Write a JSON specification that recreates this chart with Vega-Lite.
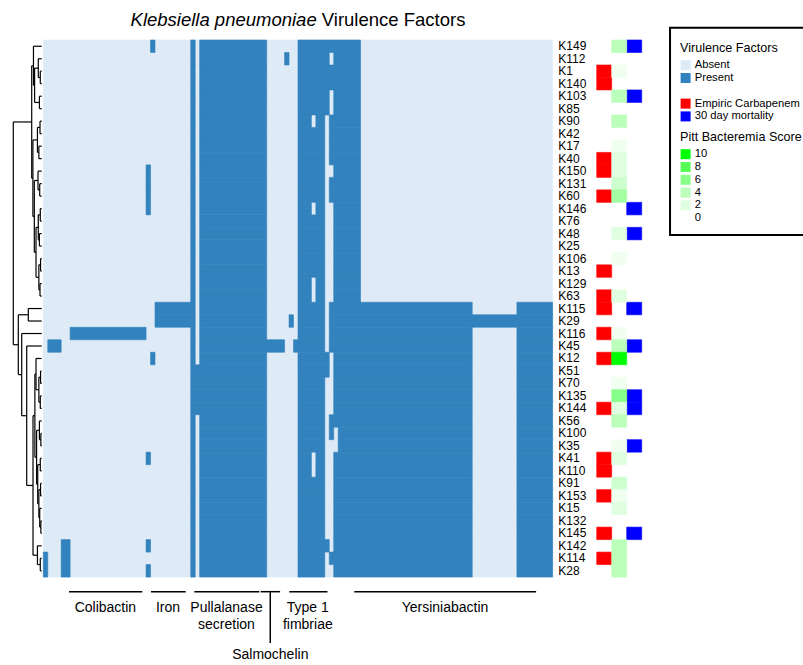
{
"$schema": "https://vega.github.io/schema/vega-lite/v6.json",
"width": 803, "height": 665, "autosize": {"type": "none"}, "padding": 0, "background": "white",
"config": {
  "view": {"stroke": null},
  "font": "Liberation Sans",
  "axis": {"disable": true},
  "scale": {"continuousPadding": 0},
  "legend": {"orient": "none", "padding": 0, "rowPadding": 0.8, "labelFont": "Liberation Sans", "labelFontSize": 11.2, "labelColor": "black", "labelOffset": 3.5, "labelLimit": 300, "titleFont": "Liberation Sans", "titleFontSize": 12.6, "titleFontWeight": "normal", "titleColor": "black", "titlePadding": 5, "titleLimit": 300, "symbolType": "square", "symbolSize": 100, "symbolStrokeWidth": 0, "symbolOpacity": 1}
},
"datasets": {
"strains": [
{"r":0,"k":"K149","c":0,"p":4,"m":1},
{"r":1,"k":"K112","c":0,"p":0,"m":0},
{"r":2,"k":"K1","c":1,"p":1,"m":0},
{"r":3,"k":"K140","c":1,"p":0,"m":0},
{"r":4,"k":"K103","c":0,"p":4,"m":1},
{"r":5,"k":"K85","c":0,"p":0,"m":0},
{"r":6,"k":"K90","c":0,"p":4,"m":0},
{"r":7,"k":"K42","c":0,"p":0,"m":0},
{"r":8,"k":"K17","c":0,"p":1,"m":0},
{"r":9,"k":"K40","c":1,"p":2,"m":0},
{"r":10,"k":"K150","c":1,"p":2,"m":0},
{"r":11,"k":"K131","c":0,"p":3,"m":0},
{"r":12,"k":"K60","c":1,"p":5,"m":0},
{"r":13,"k":"K146","c":0,"p":0,"m":1},
{"r":14,"k":"K76","c":0,"p":0,"m":0},
{"r":15,"k":"K48","c":0,"p":2,"m":1},
{"r":16,"k":"K25","c":0,"p":0,"m":0},
{"r":17,"k":"K106","c":0,"p":1,"m":0},
{"r":18,"k":"K13","c":1,"p":0,"m":0},
{"r":19,"k":"K129","c":0,"p":0,"m":0},
{"r":20,"k":"K63","c":1,"p":2,"m":0},
{"r":21,"k":"K115","c":1,"p":0,"m":1},
{"r":22,"k":"K29","c":0,"p":0,"m":0},
{"r":23,"k":"K116","c":1,"p":1,"m":0},
{"r":24,"k":"K45","c":0,"p":4,"m":1},
{"r":25,"k":"K12","c":1,"p":10,"m":0},
{"r":26,"k":"K51","c":0,"p":0,"m":0},
{"r":27,"k":"K70","c":0,"p":1,"m":0},
{"r":28,"k":"K135","c":0,"p":6,"m":1},
{"r":29,"k":"K144","c":1,"p":2,"m":1},
{"r":30,"k":"K56","c":0,"p":4,"m":0},
{"r":31,"k":"K100","c":0,"p":0,"m":0},
{"r":32,"k":"K35","c":0,"p":1,"m":1},
{"r":33,"k":"K41","c":1,"p":2,"m":0},
{"r":34,"k":"K110","c":1,"p":0,"m":0},
{"r":35,"k":"K91","c":0,"p":3,"m":0},
{"r":36,"k":"K153","c":1,"p":1,"m":0},
{"r":37,"k":"K15","c":0,"p":2,"m":0},
{"r":38,"k":"K132","c":0,"p":0,"m":0},
{"r":39,"k":"K145","c":1,"p":0,"m":1},
{"r":40,"k":"K142","c":0,"p":4,"m":0},
{"r":41,"k":"K114","c":1,"p":4,"m":0},
{"r":42,"k":"K28","c":0,"p":4,"m":0}
],
"runs": [
{"r":0,"a":24,"b":25},{"r":0,"a":33,"b":34},{"r":0,"a":35,"b":50},{"r":0,"a":57,"b":71},
{"r":1,"a":33,"b":34},{"r":1,"a":35,"b":50},{"r":1,"a":54,"b":55},{"r":1,"a":57,"b":64},{"r":1,"a":65,"b":71},
{"r":2,"a":33,"b":34},{"r":2,"a":35,"b":50},{"r":2,"a":57,"b":71},
{"r":3,"a":33,"b":34},{"r":3,"a":35,"b":50},{"r":3,"a":57,"b":71},
{"r":4,"a":33,"b":34},{"r":4,"a":35,"b":50},{"r":4,"a":57,"b":64},{"r":4,"a":65,"b":71},
{"r":5,"a":33,"b":34},{"r":5,"a":35,"b":50},{"r":5,"a":57,"b":64},{"r":5,"a":65,"b":71},
{"r":6,"a":33,"b":34},{"r":6,"a":35,"b":50},{"r":6,"a":57,"b":60},{"r":6,"a":61,"b":63},{"r":6,"a":64,"b":71},
{"r":7,"a":33,"b":34},{"r":7,"a":35,"b":50},{"r":7,"a":57,"b":63},{"r":7,"a":64,"b":71},
{"r":8,"a":33,"b":34},{"r":8,"a":35,"b":50},{"r":8,"a":57,"b":63},{"r":8,"a":64,"b":71},
{"r":9,"a":33,"b":34},{"r":9,"a":35,"b":50},{"r":9,"a":57,"b":63},{"r":9,"a":64,"b":71},
{"r":10,"a":23,"b":24},{"r":10,"a":33,"b":34},{"r":10,"a":35,"b":50},{"r":10,"a":57,"b":63},{"r":10,"a":65,"b":71},
{"r":11,"a":23,"b":24},{"r":11,"a":33,"b":34},{"r":11,"a":35,"b":50},{"r":11,"a":57,"b":63},{"r":11,"a":64,"b":71},
{"r":12,"a":23,"b":24},{"r":12,"a":33,"b":34},{"r":12,"a":35,"b":50},{"r":12,"a":57,"b":63},{"r":12,"a":64,"b":71},
{"r":13,"a":23,"b":24},{"r":13,"a":33,"b":34},{"r":13,"a":35,"b":50},{"r":13,"a":57,"b":60},{"r":13,"a":61,"b":63},{"r":13,"a":65,"b":71},
{"r":14,"a":33,"b":34},{"r":14,"a":35,"b":50},{"r":14,"a":57,"b":63},{"r":14,"a":65,"b":71},
{"r":15,"a":33,"b":34},{"r":15,"a":35,"b":50},{"r":15,"a":57,"b":63},{"r":15,"a":65,"b":71},
{"r":16,"a":33,"b":34},{"r":16,"a":35,"b":50},{"r":16,"a":57,"b":63},{"r":16,"a":65,"b":71},
{"r":17,"a":33,"b":34},{"r":17,"a":35,"b":50},{"r":17,"a":57,"b":63},{"r":17,"a":65,"b":71},
{"r":18,"a":33,"b":34},{"r":18,"a":35,"b":50},{"r":18,"a":57,"b":63},{"r":18,"a":65,"b":71},
{"r":19,"a":33,"b":34},{"r":19,"a":35,"b":50},{"r":19,"a":57,"b":60},{"r":19,"a":61,"b":63},{"r":19,"a":65,"b":71},
{"r":20,"a":33,"b":34},{"r":20,"a":35,"b":50},{"r":20,"a":57,"b":60},{"r":20,"a":61,"b":63},{"r":20,"a":65,"b":71},
{"r":21,"a":25,"b":34},{"r":21,"a":35,"b":50},{"r":21,"a":57,"b":63},{"r":21,"a":64,"b":96},{"r":21,"a":106,"b":114},
{"r":22,"a":25,"b":34},{"r":22,"a":35,"b":50},{"r":22,"a":55,"b":56},{"r":22,"a":57,"b":63},{"r":22,"a":64,"b":114},
{"r":23,"a":6,"b":23},{"r":23,"a":33,"b":34},{"r":23,"a":35,"b":50},{"r":23,"a":57,"b":63},{"r":23,"a":64,"b":96},{"r":23,"a":106,"b":114},
{"r":24,"a":1,"b":4},{"r":24,"a":33,"b":34},{"r":24,"a":35,"b":54},{"r":24,"a":56,"b":63},{"r":24,"a":64,"b":96},{"r":24,"a":106,"b":114},
{"r":25,"a":24,"b":25},{"r":25,"a":33,"b":34},{"r":25,"a":35,"b":50},{"r":25,"a":57,"b":64},{"r":25,"a":65,"b":96},{"r":25,"a":106,"b":114},
{"r":26,"a":33,"b":50},{"r":26,"a":57,"b":64},{"r":26,"a":65,"b":96},{"r":26,"a":106,"b":114},
{"r":27,"a":33,"b":50},{"r":27,"a":57,"b":63},{"r":27,"a":65,"b":96},{"r":27,"a":106,"b":114},
{"r":28,"a":33,"b":50},{"r":28,"a":57,"b":63},{"r":28,"a":65,"b":96},{"r":28,"a":106,"b":114},
{"r":29,"a":33,"b":50},{"r":29,"a":57,"b":63},{"r":29,"a":65,"b":96},{"r":29,"a":106,"b":114},
{"r":30,"a":33,"b":34},{"r":30,"a":35,"b":50},{"r":30,"a":57,"b":63},{"r":30,"a":64,"b":96},{"r":30,"a":106,"b":114},
{"r":31,"a":33,"b":34},{"r":31,"a":35,"b":50},{"r":31,"a":57,"b":63},{"r":31,"a":64,"b":65},{"r":31,"a":66,"b":96},{"r":31,"a":106,"b":114},
{"r":32,"a":33,"b":34},{"r":32,"a":35,"b":50},{"r":32,"a":57,"b":63},{"r":32,"a":66,"b":96},{"r":32,"a":106,"b":114},
{"r":33,"a":23,"b":24},{"r":33,"a":33,"b":34},{"r":33,"a":35,"b":50},{"r":33,"a":57,"b":60},{"r":33,"a":61,"b":63},{"r":33,"a":65,"b":96},{"r":33,"a":106,"b":114},
{"r":34,"a":33,"b":34},{"r":34,"a":35,"b":50},{"r":34,"a":57,"b":60},{"r":34,"a":61,"b":63},{"r":34,"a":65,"b":96},{"r":34,"a":106,"b":114},
{"r":35,"a":33,"b":34},{"r":35,"a":35,"b":50},{"r":35,"a":57,"b":63},{"r":35,"a":65,"b":96},{"r":35,"a":106,"b":114},
{"r":36,"a":33,"b":34},{"r":36,"a":35,"b":50},{"r":36,"a":57,"b":63},{"r":36,"a":65,"b":96},{"r":36,"a":106,"b":114},
{"r":37,"a":33,"b":34},{"r":37,"a":35,"b":50},{"r":37,"a":57,"b":63},{"r":37,"a":65,"b":96},{"r":37,"a":106,"b":114},
{"r":38,"a":33,"b":34},{"r":38,"a":35,"b":50},{"r":38,"a":57,"b":63},{"r":38,"a":65,"b":96},{"r":38,"a":106,"b":114},
{"r":39,"a":33,"b":34},{"r":39,"a":35,"b":50},{"r":39,"a":57,"b":63},{"r":39,"a":65,"b":96},{"r":39,"a":106,"b":114},
{"r":40,"a":4,"b":6},{"r":40,"a":23,"b":24},{"r":40,"a":33,"b":34},{"r":40,"a":35,"b":50},{"r":40,"a":57,"b":64},{"r":40,"a":65,"b":96},{"r":40,"a":106,"b":114},
{"r":41,"a":0,"b":1},{"r":41,"a":4,"b":6},{"r":41,"a":33,"b":34},{"r":41,"a":35,"b":50},{"r":41,"a":57,"b":63},{"r":41,"a":64,"b":96},{"r":41,"a":106,"b":114},
{"r":42,"a":0,"b":1},{"r":42,"a":4,"b":6},{"r":42,"a":23,"b":24},{"r":42,"a":33,"b":34},{"r":42,"a":35,"b":50},{"r":42,"a":57,"b":63},{"r":42,"a":65,"b":96},{"r":42,"a":106,"b":114}
],
"dendro": [
{"h":0.05,"p1":2,"h1":0,"p2":3,"h2":0},
{"h":0.12,"p1":1,"h1":0,"p2":2.5,"h2":0.05},
{"h":0.08,"p1":4,"h1":0,"p2":5,"h2":0},
{"h":0.25,"p1":1.75,"h1":0.12,"p2":4.5,"h2":0.08},
{"h":0.29,"p1":0,"h1":0,"p2":3.125,"h2":0.25},
{"h":0.06,"p1":6,"h1":0,"p2":7,"h2":0},
{"h":0.1,"p1":8,"h1":0,"p2":9,"h2":0},
{"h":0.15,"p1":6.5,"h1":0.06,"p2":8.5,"h2":0.1},
{"h":0.07,"p1":11,"h1":0,"p2":12,"h2":0},
{"h":0.13,"p1":10,"h1":0,"p2":11.5,"h2":0.07},
{"h":0.05,"p1":13,"h1":0,"p2":14,"h2":0},
{"h":0.08,"p1":15,"h1":0,"p2":16,"h2":0},
{"h":0.12,"p1":13.5,"h1":0.05,"p2":15.5,"h2":0.08},
{"h":0.04,"p1":17,"h1":0,"p2":18,"h2":0},
{"h":0.06,"p1":19,"h1":0,"p2":20,"h2":0},
{"h":0.1,"p1":17.5,"h1":0.04,"p2":19.5,"h2":0.06},
{"h":0.2,"p1":14.5,"h1":0.12,"p2":18.5,"h2":0.1},
{"h":0.26,"p1":10.75,"h1":0.13,"p2":16.5,"h2":0.2},
{"h":0.31,"p1":7.5,"h1":0.15,"p2":13.625,"h2":0.26},
{"h":0.352,"p1":1.5625,"h1":0.29,"p2":10.5625,"h2":0.31},
{"h":0.472,"p1":21,"h1":0,"p2":22,"h2":0},
{"h":0.04,"p1":26,"h1":0,"p2":27,"h2":0},
{"h":0.05,"p1":28,"h1":0,"p2":29,"h2":0},
{"h":0.1,"p1":26.5,"h1":0.04,"p2":28.5,"h2":0.05},
{"h":0.2,"p1":25,"h1":0,"p2":27.5,"h2":0.1},
{"h":0.03,"p1":31,"h1":0,"p2":32,"h2":0},
{"h":0.08,"p1":30,"h1":0,"p2":31.5,"h2":0.03},
{"h":0.05,"p1":33,"h1":0,"p2":34,"h2":0},
{"h":0.04,"p1":35,"h1":0,"p2":36,"h2":0},
{"h":0.03,"p1":38,"h1":0,"p2":39,"h2":0},
{"h":0.07,"p1":37,"h1":0,"p2":38.5,"h2":0.03},
{"h":0.1,"p1":35.5,"h1":0.04,"p2":37.75,"h2":0.07},
{"h":0.14,"p1":33.5,"h1":0.05,"p2":36.625,"h2":0.1},
{"h":0.18,"p1":30.75,"h1":0.08,"p2":35.0625,"h2":0.14},
{"h":0.24,"p1":26.25,"h1":0.2,"p2":32.906,"h2":0.18},
{"h":0.05,"p1":41,"h1":0,"p2":42,"h2":0},
{"h":0.15,"p1":40,"h1":0,"p2":41.5,"h2":0.05},
{"h":0.306,"p1":29.578,"h1":0.24,"p2":40.75,"h2":0.15},
{"h":0.528,"p1":24,"h1":0,"p2":35.164,"h2":0.306},
{"h":0.704,"p1":23,"h1":0,"p2":29.582,"h2":0.528},
{"h":0.824,"p1":21.5,"h1":0.472,"p2":26.291,"h2":0.704},
{"h":1,"p1":6.0625,"h1":0.352,"p2":23.896,"h2":0.824}
],
"groups": [
{"g":"Colibactin","c0":5.75,"c1":22.16,"mid":13.9,"tier":1},
{"g":"Iron","c0":24.1,"c1":31.87,"mid":27.9,"tier":1},
{"g":"Pullalanase\nsecretion","c0":33.8,"c1":48.35,"mid":41.0,"tier":1},
{"g":"Salmochelin","c0":48.65,"c1":53.0,"mid":50.8,"tier":2},
{"g":"Type 1\nfimbriae","c0":55.05,"c1":63.6,"mid":59.2,"tier":1},
{"g":"Yersiniabactin","c0":69.6,"c1":110.3,"mid":89.9,"tier":1}
]
},
"layer": [
 {
  "data": {"name": "dendro"},
  "layer": [
   {"mark": {"type": "rule", "color": "black", "strokeWidth": 1.2},
    "encoding": {
     "x": {"field": "h", "type": "quantitative", "scale": {"domain": [-26.806, 1.4683], "reverse": true, "nice": false, "zero": false}},
     "y": {"field": "p1", "type": "quantitative", "scale": {"domain": [-3.7025, 49.54], "reverse": true, "nice": false, "zero": false}},
     "y2": {"field": "p2"}}},
   {"mark": {"type": "rule", "color": "black", "strokeWidth": 1.2},
    "encoding": {
     "x": {"field": "h", "type": "quantitative", "scale": {"domain": [-26.806, 1.4683], "reverse": true, "nice": false, "zero": false}},
     "x2": {"field": "h1"},
     "y": {"field": "p1", "type": "quantitative", "scale": {"domain": [-3.7025, 49.54], "reverse": true, "nice": false, "zero": false}}}},
   {"mark": {"type": "rule", "color": "black", "strokeWidth": 1.2},
    "encoding": {
     "x": {"field": "h", "type": "quantitative", "scale": {"domain": [-26.806, 1.4683], "reverse": true, "nice": false, "zero": false}},
     "x2": {"field": "h2"},
     "y": {"field": "p2", "type": "quantitative", "scale": {"domain": [-3.7025, 49.54], "reverse": true, "nice": false, "zero": false}}}}
  ]
 },
 {
  "layer": [
   {
    "layer": [
     {"data": {"name": "strains"},
      "mark": {"type": "bar", "size": 12.49, "stroke": "#deebf7", "strokeWidth": 0.6},
      "encoding": {
       "x": {"datum": 0, "type": "quantitative", "scale": {"domain": [-9.691, 170.03], "nice": false, "zero": false}},
       "x2": {"datum": 114},
       "y": {"field": "r", "type": "quantitative", "scale": {"domain": [-3.7025, 49.54], "reverse": true, "nice": false, "zero": false}},
       "color": {"datum": "Absent", "type": "nominal", "scale": {"domain": ["Absent", "Present"], "range": ["#deebf7", "#3182bd"]}, "legend": {"title": "Virulence Factors", "legendX": 680, "legendY": 42}}}},
     {"data": {"name": "runs"},
      "mark": {"type": "bar", "size": 12.49, "stroke": "#3182bd", "strokeWidth": 0.6},
      "encoding": {
       "x": {"field": "a", "type": "quantitative", "scale": {"domain": [-9.691, 170.03], "nice": false, "zero": false}},
       "x2": {"field": "b"},
       "y": {"field": "r", "type": "quantitative", "scale": {"domain": [-3.7025, 49.54], "reverse": true, "nice": false, "zero": false}},
       "color": {"datum": "Present", "type": "nominal", "scale": {"domain": ["Absent", "Present"], "range": ["#deebf7", "#3182bd"]}}}}
    ]
   },
   {
    "data": {"name": "strains"},
    "layer": [
     {"transform": [{"filter": "datum.c == 1"}],
      "mark": {"type": "bar", "size": 12.49, "stroke": "#ff0000", "strokeWidth": 0.6},
      "encoding": {
       "x": {"datum": 123.86, "type": "quantitative", "scale": {"domain": [-9.691, 170.03], "nice": false, "zero": false}},
       "x2": {"datum": 127.21},
       "y": {"field": "r", "type": "quantitative", "scale": {"domain": [-3.7025, 49.54], "reverse": true, "nice": false, "zero": false}},
       "color": {"datum": "Empiric Carbapenem", "type": "nominal", "scale": {"domain": ["Empiric Carbapenem", "30 day mortality"], "range": ["#ff0000", "#0000ff"]}, "legend": {"title": null, "legendX": 680, "legendY": 98}}}},
     {"transform": [{"filter": "datum.m == 1"}],
      "mark": {"type": "bar", "size": 12.49, "stroke": "#0000ff", "strokeWidth": 0.6},
      "encoding": {
       "x": {"datum": 130.57, "type": "quantitative", "scale": {"domain": [-9.691, 170.03], "nice": false, "zero": false}},
       "x2": {"datum": 133.93},
       "y": {"field": "r", "type": "quantitative", "scale": {"domain": [-3.7025, 49.54], "reverse": true, "nice": false, "zero": false}},
       "color": {"datum": "30 day mortality", "type": "nominal", "scale": {"domain": ["Empiric Carbapenem", "30 day mortality"], "range": ["#ff0000", "#0000ff"]}}}}
    ]
   },
   {"data": {"name": "strains"},
    "transform": [{"filter": "datum.p > 0"}],
    "mark": {"type": "bar", "size": 12.49, "strokeWidth": 0.6},
    "encoding": {
     "x": {"datum": 127.21, "type": "quantitative", "scale": {"domain": [-9.691, 170.03], "nice": false, "zero": false}},
     "x2": {"datum": 130.57},
     "y": {"field": "r", "type": "quantitative", "scale": {"domain": [-3.7025, 49.54], "reverse": true, "nice": false, "zero": false}},
     "color": {"field": "p", "type": "quantitative", "scale": {"type": "linear", "domain": [0, 2, 4, 6, 8, 10], "range": ["#ffffff", "#e0ffe0", "#bbffbb", "#88ff88", "#55ff55", "#00ff00"], "interpolate": "rgb"}, "legend": {"type": "symbol", "values": [10, 8, 6, 4, 2, 0], "title": "Pitt Bacteremia Score", "legendX": 680, "legendY": 131}},
     "stroke": {"field": "p", "type": "quantitative", "scale": {"type": "linear", "domain": [0, 2, 4, 6, 8, 10], "range": ["#ffffff", "#e0ffe0", "#bbffbb", "#88ff88", "#55ff55", "#00ff00"], "interpolate": "rgb"}, "legend": null}}},
   {"data": {"name": "strains"},
    "mark": {"type": "text", "align": "left", "baseline": "middle", "fontSize": 12, "color": "black"},
    "encoding": {
     "x": {"datum": 115.26, "type": "quantitative", "scale": {"domain": [-9.691, 170.03], "nice": false, "zero": false}},
     "y": {"field": "r", "type": "quantitative", "scale": {"domain": [-3.7025, 49.54], "reverse": true, "nice": false, "zero": false}},
     "text": {"field": "k"}}},
   {"data": {"name": "groups"},
    "mark": {"type": "rule", "color": "black", "strokeWidth": 1.5},
    "encoding": {
     "x": {"field": "c0", "type": "quantitative", "scale": {"domain": [-9.691, 170.03], "nice": false, "zero": false}},
     "x2": {"field": "c1"},
     "y": {"datum": 43.67, "type": "quantitative", "scale": {"domain": [-3.7025, 49.54], "reverse": true, "nice": false, "zero": false}}}},
   {"data": {"name": "groups"},
    "transform": [{"filter": "datum.tier == 2"}],
    "mark": {"type": "rule", "color": "black", "strokeWidth": 1.5},
    "encoding": {
     "x": {"field": "mid", "type": "quantitative", "scale": {"domain": [-9.691, 170.03], "nice": false, "zero": false}},
     "y": {"datum": 43.67, "type": "quantitative", "scale": {"domain": [-3.7025, 49.54], "reverse": true, "nice": false, "zero": false}},
     "y2": {"datum": 47.78}}},
   {"data": {"name": "groups"},
    "transform": [{"filter": "datum.tier == 1"}],
    "mark": {"type": "text", "align": "center", "baseline": "top", "fontSize": 14, "lineBreak": "\n", "lineHeight": 17, "color": "black"},
    "encoding": {
     "x": {"field": "mid", "type": "quantitative", "scale": {"domain": [-9.691, 170.03], "nice": false, "zero": false}},
     "y": {"datum": 44.38, "type": "quantitative", "scale": {"domain": [-3.7025, 49.54], "reverse": true, "nice": false, "zero": false}},
     "text": {"field": "g"}}},
   {"data": {"name": "groups"},
    "transform": [{"filter": "datum.tier == 2"}],
    "mark": {"type": "text", "align": "center", "baseline": "top", "fontSize": 14, "color": "black"},
    "encoding": {
     "x": {"field": "mid", "type": "quantitative", "scale": {"domain": [-9.691, 170.03], "nice": false, "zero": false}},
     "y": {"datum": 48.14, "type": "quantitative", "scale": {"domain": [-3.7025, 49.54], "reverse": true, "nice": false, "zero": false}},
     "text": {"field": "g"}}},
   {"data": {"values": [{"t": "Klebsiella pneumoniae"}]},
    "mark": {"type": "text", "align": "right", "baseline": "alphabetic", "fontSize": 18.5, "fontStyle": "italic", "color": "black"},
    "encoding": {
     "x": {"datum": 61.19, "type": "quantitative", "scale": {"domain": [-9.691, 170.03], "nice": false, "zero": false}},
     "y": {"datum": -1.581, "type": "quantitative", "scale": {"domain": [-3.7025, 49.54], "reverse": true, "nice": false, "zero": false}},
     "text": {"field": "t"}}},
   {"data": {"values": [{"t": "Virulence Factors"}]},
    "mark": {"type": "text", "align": "left", "baseline": "alphabetic", "fontSize": 18.5, "color": "black"},
    "encoding": {
     "x": {"datum": 62.33, "type": "quantitative", "scale": {"domain": [-9.691, 170.03], "nice": false, "zero": false}},
     "y": {"datum": -1.581, "type": "quantitative", "scale": {"domain": [-3.7025, 49.54], "reverse": true, "nice": false, "zero": false}},
     "text": {"field": "t"}}},
   {"data": {"values": [{"box": "legend"}]},
    "mark": {"type": "rect", "filled": false, "color": "black", "strokeWidth": 2},
    "encoding": {
     "x": {"datum": 140.27, "type": "quantitative", "scale": {"domain": [-9.691, 170.03], "nice": false, "zero": false}},
     "x2": {"datum": 175},
     "y": {"datum": -1.485, "type": "quantitative", "scale": {"domain": [-3.7025, 49.54], "reverse": true, "nice": false, "zero": false}},
     "y2": {"datum": 15.11}}}
  ],
  "resolve": {"scale": {"color": "independent"}}
 }
],
"resolve": {"scale": {"x": "independent"}}
}
